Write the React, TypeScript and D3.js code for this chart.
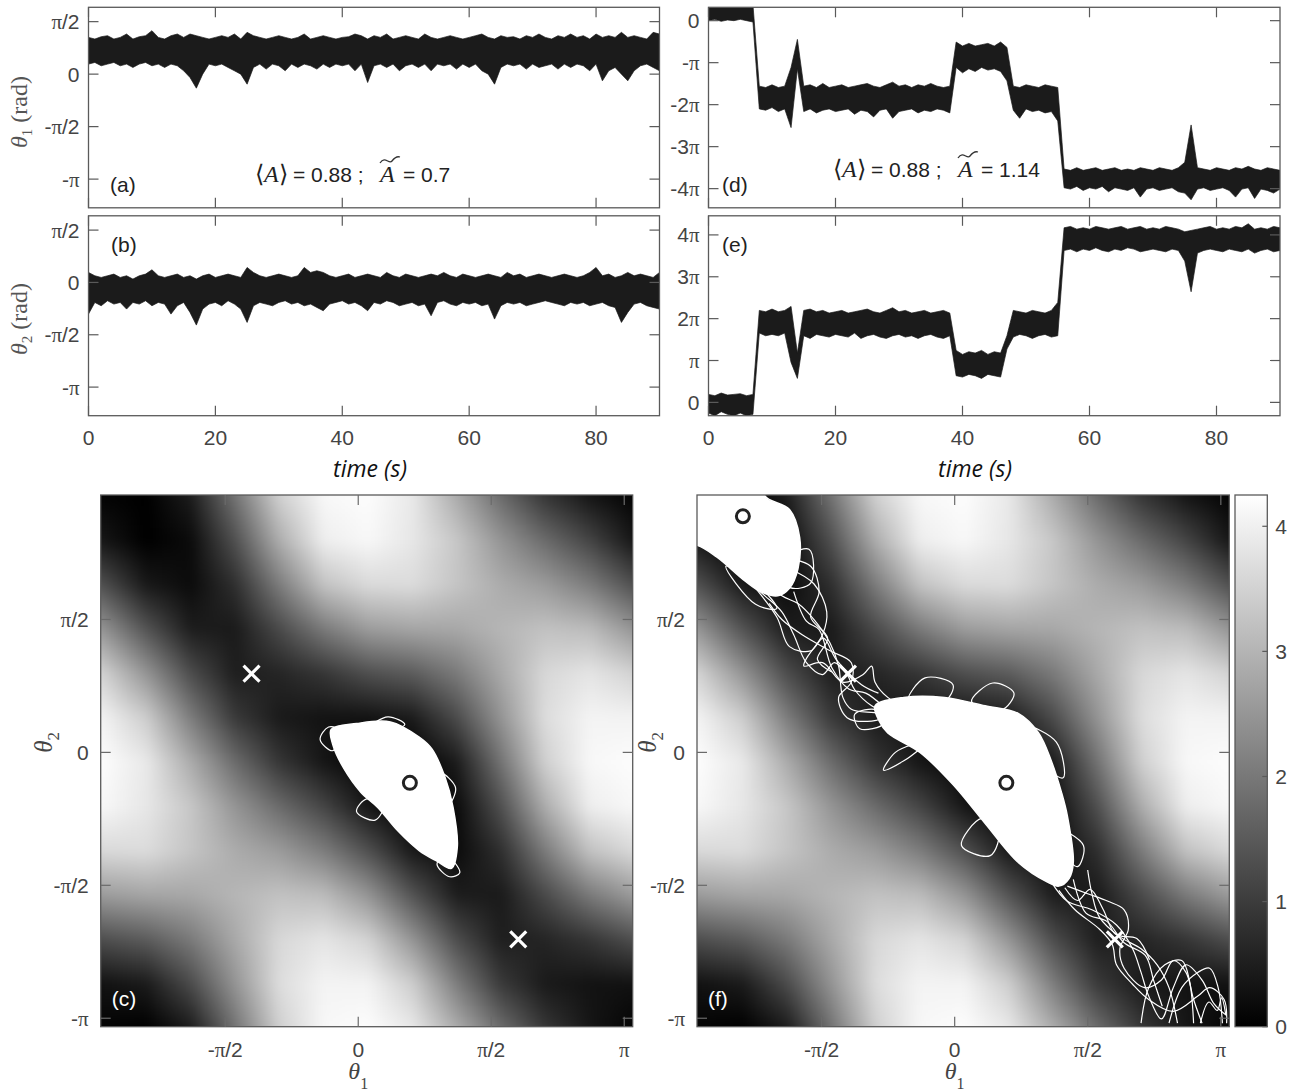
import React, { useMemo } from "react";
import * as d3 from "d3";

const PI = Math.PI;

// ---------------------------------------------------------------- time traces
// one envelope sample per second, values in rad
const seconds = d3.range(0, 91);

// (a) theta1, upper / lower envelope
const aHi = [
  1.1, 1.05, 1.12, 1.15, 1.05, 1.1, 1.2, 1.05, 1.12, 1.15,
  1.3, 1.1, 1.05, 1.15, 1.2, 1.1, 1.2, 1.15, 1.1, 1.05,
  1.1, 1.15, 1.1, 1.2, 1.05, 1.25, 1.15, 1.1, 1.05, 1.1,
  1.15, 1.1, 1.05, 1.1, 1.2, 1.05, 1.1, 1.15, 1.1, 1.05,
  1.1, 1.12, 1.2, 1.15, 1.05, 1.15, 1.1, 1.2, 1.05, 1.1,
  1.15, 1.1, 1.05, 1.2, 1.1, 1.05, 1.1, 1.15, 1.1, 1.05,
  1.1, 1.15, 1.2, 1.1, 1.05, 1.15, 1.1, 1.12, 1.05, 1.15,
  1.1, 1.2, 1.1, 1.05, 1.15, 1.1, 1.2, 1.1, 1.15, 1.05,
  1.2, 1.1, 1.15, 1.1, 1.25, 1.1, 1.15, 1.1, 1.05, 1.25,
  1.2,
];
const aLo = [
  0.3, 0.35, 0.25, 0.3, 0.35, 0.25, 0.3, 0.2, 0.3, 0.35,
  0.25, 0.3, 0.2, 0.3, 0.25, 0.1, -0.1, -0.42, 0.0, 0.3,
  0.25, 0.3, 0.2, 0.1, 0.0, -0.3, 0.2, 0.3, 0.15, 0.3,
  0.25, 0.1, 0.3, 0.2, 0.3, 0.25, 0.15, 0.3, 0.2, 0.3,
  0.25, 0.3, 0.1, 0.3, -0.25, 0.25, 0.3, 0.2, 0.3, 0.1,
  0.25, 0.3, 0.2, 0.3, 0.1, 0.3, 0.25, 0.3, 0.15, 0.3,
  0.2, 0.3, 0.1, 0.0, -0.3, 0.2, 0.3, 0.25, 0.3, 0.15,
  0.3, 0.2, 0.25, 0.3, 0.15, 0.3, 0.2, 0.3, 0.25, 0.1,
  0.3, -0.2, 0.1, 0.2, 0.0, -0.2, 0.1, 0.25, 0.3, 0.2,
  0.1,
];

// (b) theta2
const bHi = [
  0.3, 0.2, 0.15, 0.2, 0.25, 0.15, 0.2, 0.1, 0.2, 0.25,
  0.38, 0.2, 0.15, 0.2, 0.25, 0.15, 0.2, 0.1, 0.2, 0.25,
  0.15, 0.2, 0.25, 0.2, 0.15, 0.45, 0.3, 0.2, 0.15, 0.2,
  0.25, 0.2, 0.15, 0.2, 0.45, 0.3, 0.35, 0.3, 0.2, 0.15,
  0.2, 0.25, 0.15, 0.2, 0.25, 0.2, 0.15, 0.3, 0.2, 0.15,
  0.25, 0.2, 0.15, 0.2, 0.25, 0.2, 0.3, 0.2, 0.15, 0.25,
  0.2, 0.15, 0.2, 0.25, 0.2, 0.15, 0.3, 0.2, 0.25, 0.15,
  0.2, 0.25, 0.2, 0.15, 0.2, 0.25, 0.2, 0.15, 0.2, 0.3,
  0.45, 0.2, 0.25, 0.15, 0.2, 0.3, 0.2, 0.25, 0.2, 0.15,
  0.3,
];
const bLo = [
  -0.95, -0.6, -0.7, -0.55, -0.65, -0.6, -0.8, -0.6, -0.65, -0.55,
  -0.7, -0.6, -0.65, -0.95, -0.7, -0.6, -0.9, -1.28, -0.8, -0.65,
  -0.6, -0.7, -0.55, -0.65, -0.8, -1.2, -0.7, -0.6, -0.65, -0.7,
  -0.6, -0.55, -0.65, -0.6, -0.7, -0.65, -0.75, -0.85, -0.65, -0.6,
  -0.55, -0.65, -0.6, -0.7, -0.85, -0.6, -0.65, -0.55, -0.6, -0.7,
  -0.65, -0.6, -0.7, -0.65, -1.0, -0.6, -0.55, -0.65, -0.7, -0.6,
  -0.65, -0.6, -0.7, -0.65, -1.1, -0.7, -0.6, -0.65, -0.6, -0.7,
  -0.65, -0.6, -0.55, -0.6, -0.65, -0.7, -0.6, -0.65, -0.6, -0.7,
  -0.65, -0.6, -0.7, -0.75, -1.2, -0.9, -0.65, -0.6, -0.7, -0.75,
  -0.8,
];

// (d) theta1, run with phase slips
const dHi = [
  1.2, 1.2, 1.2, 1.2, 1.2, 1.2, 1.2, 1.2, -4.9, -5.0,
  -4.8, -5.0, -4.9, -3.5, -1.4, -4.9, -4.8, -5.0, -4.7, -5.0,
  -4.9, -4.8, -5.0, -4.9, -4.8, -4.7, -4.9, -5.0, -4.8, -4.6,
  -4.9, -4.8, -5.0, -4.8, -4.9, -4.7, -4.9, -5.0, -4.9, -1.6,
  -1.9, -1.7, -1.9, -1.8, -1.7, -1.9, -1.6, -2.0, -4.9, -5.0,
  -4.8, -4.9, -5.0, -4.8, -4.9, -5.0, -11.1, -11.2, -11.0, -11.2,
  -11.1, -11.0, -11.2, -11.1, -11.0, -11.2, -11.1, -11.2, -11.0, -11.1,
  -11.2, -11.0, -11.1, -11.2, -11.0, -10.6, -7.8, -11.0, -11.1, -11.2,
  -11.0, -11.1, -11.2, -11.0, -11.1, -10.9, -11.1, -11.2, -11.0, -11.1,
  -11.2,
];
const dLo = [
  0.0, 0.1, -0.05, 0.05, 0.0, 0.1, 0.0, -0.1, -6.6, -6.7,
  -6.5, -6.8, -6.6, -8.0, -3.6, -6.8, -6.6, -6.9, -6.7, -6.6,
  -6.8, -6.7, -6.6, -7.0, -6.7, -6.8, -7.2, -6.7, -6.6, -7.3,
  -6.8, -6.7, -6.6, -6.9, -6.7, -6.8, -6.6, -6.7, -6.9, -3.5,
  -3.9, -3.6, -3.8, -3.5, -3.7, -3.6, -3.8, -4.5, -6.7, -7.3,
  -6.6, -6.8, -6.7, -6.9, -6.8, -7.5, -12.5, -12.6, -12.4, -12.7,
  -12.5, -12.6, -12.4, -12.8, -12.5, -12.6, -12.7, -12.5, -13.2, -12.6,
  -12.5, -12.7, -12.6, -12.5, -12.8, -12.9, -13.4, -12.6, -12.5, -12.7,
  -12.6, -12.5, -12.7, -13.2, -12.6, -12.5, -13.3, -12.6, -12.7, -12.9,
  -12.6,
];

// (e) theta2, run with phase slips
const eHi = [
  0.6, 0.5, 0.7, 0.55, 0.6, 0.65, 0.5, 0.6, 6.9, 6.8,
  7.0, 6.8, 6.9, 7.2, 3.7, 6.9, 7.0, 6.8, 6.9, 6.7,
  6.8, 6.9, 6.7, 6.8, 6.9, 7.0, 6.8, 6.7, 6.9, 7.1,
  6.8, 6.9, 6.7, 6.8, 6.9, 6.7, 6.8, 6.9, 6.7, 3.9,
  3.6, 3.8, 3.7, 3.9, 3.6, 3.8, 3.7, 5.0, 6.9, 6.8,
  6.7, 6.9, 6.8, 6.7, 6.9, 7.5, 13.1, 13.2, 13.0, 13.1,
  13.0, 13.2, 13.1, 13.0, 13.1, 13.2, 13.0, 13.1, 13.2, 13.0,
  13.1, 13.0, 13.2, 13.1, 13.0, 12.8, 12.9, 13.0, 13.1, 13.2,
  13.0, 13.1, 13.0, 13.2, 13.1, 13.4, 13.0, 13.1, 13.0, 13.2,
  13.1,
];
const eLo = [
  -0.8, -1.0, -0.7, -0.9, -1.0, -0.8, -1.0, -0.9, 5.2, 5.0,
  5.1, 5.0, 5.2, 3.0, 1.8, 5.0, 4.8, 5.1, 5.0, 4.9,
  5.1, 5.0, 4.9, 5.2, 4.8, 5.0, 5.1, 4.9, 4.8, 5.0,
  5.1, 4.9, 5.0, 4.8, 5.0, 5.1, 4.9, 4.8, 5.0, 2.0,
  1.9, 2.1, 2.0, 1.8, 2.1, 2.0, 1.9, 4.0, 4.9, 5.1,
  5.0, 4.8, 5.0, 5.1, 4.9, 5.0, 11.4, 11.5, 11.3, 11.5,
  11.4, 11.6, 11.4, 11.3, 11.5, 11.4, 11.6, 11.5, 11.3, 11.4,
  11.5, 11.4, 11.3, 11.5, 11.4, 10.6, 8.3, 11.2, 11.4, 11.5,
  11.4, 11.3, 11.5, 11.4, 11.3, 11.5, 11.2, 11.4, 11.5, 11.3,
  11.4,
];

// ---------------------------------------------------------------- ticks
const timeTicks = [0, 20, 40, 60, 80];
const halfPiTicks = [PI / 2, 0, -PI / 2, -PI];
const halfPiLabels = ["π/2", "0", "-π/2", "-π"];
const negPiTicks = [0, -PI, -2 * PI, -3 * PI, -4 * PI];
const negPiLabels = ["0", "-π", "-2π", "-3π", "-4π"];
const posPiTicks = [0, PI, 2 * PI, 3 * PI, 4 * PI];
const posPiLabels = ["0", "π", "2π", "3π", "4π"];
const phaseXTicks = [-PI / 2, 0, PI / 2, PI];
const phaseXLabels = ["-π/2", "0", "π/2", "π"];
const barTicks = [0, 1, 2, 3, 4];
const barMax = 4.25;

// ---------------------------------------------------------------- landscape
// sampled every π/6; rows go from θ2 = π-0.1 (top) down to -π-0.1,
// columns from θ1 = -π+0.1 to π+0.1 (last row / column repeat the first)
const landscape = [
  [0.06, 0.0, 0.47, 1.92, 3.46, 4.14, 4.22, 3.89, 2.87, 1.8, 0.9, 0.37, 0.06],
  [0.36, 0.0, 0.19, 1.34, 2.88, 3.97, 4.13, 3.85, 3.31, 2.48, 1.78, 1.15, 0.36],
  [1.33, 0.42, 0.19, 0.78, 2.06, 3.23, 3.64, 3.66, 3.28, 2.87, 2.59, 2.08, 1.33],
  [2.48, 1.4, 0.48, 0.44, 1.24, 2.04, 2.6, 2.75, 2.8, 3.03, 3.23, 3.13, 2.48],
  [3.51, 2.49, 1.29, 0.5, 0.61, 0.9, 1.31, 1.54, 2.04, 2.82, 3.6, 3.82, 3.51],
  [4.05, 3.41, 2.1, 0.97, 0.44, 0.32, 0.3, 0.45, 1.25, 2.47, 3.69, 4.07, 4.05],
  [4.22, 3.89, 2.87, 1.8, 0.9, 0.37, 0.06, 0.0, 0.47, 1.92, 3.46, 4.14, 4.22],
  [4.13, 3.85, 3.31, 2.48, 1.78, 1.15, 0.36, 0.0, 0.19, 1.34, 2.88, 3.97, 4.13],
  [3.64, 3.66, 3.28, 2.87, 2.59, 2.08, 1.33, 0.42, 0.19, 0.78, 2.06, 3.23, 3.64],
  [2.6, 2.75, 2.8, 3.03, 3.23, 3.13, 2.48, 1.4, 0.48, 0.44, 1.24, 2.04, 2.6],
  [1.31, 1.54, 2.04, 2.82, 3.6, 3.82, 3.51, 2.49, 1.29, 0.5, 0.61, 0.9, 1.31],
  [0.3, 0.45, 1.25, 2.47, 3.69, 4.07, 4.05, 3.41, 2.1, 0.97, 0.44, 0.32, 0.3],
  [0.06, 0.0, 0.47, 1.92, 3.46, 4.14, 4.22, 3.89, 2.87, 1.8, 0.9, 0.37, 0.06],
];
const theta1Range: [number, number] = [-PI + 0.1, PI + 0.1];
const theta2Range: [number, number] = [-PI - 0.1, PI - 0.1];

// fixed points [θ1, θ2]
const saddles = [[-1.26, 0.93], [1.89, -2.21]];
const minimaC = [[0.61, -0.36]];
const minimaF = [[0.61, -0.36], [-2.5, 2.79]];

// trajectory cloud outlines and excursions [θ1, θ2]
const cloudC = [
  [-0.32, 0.27], [-0.02, 0.34], [0.38, 0.36], [0.72, 0.18], [0.87, 0.04],
  [1.02, -0.28], [1.12, -0.65], [1.17, -1.12], [1.1, -1.37], [0.92, -1.28],
  [0.72, -1.16], [0.47, -0.93], [0.23, -0.65], [0.03, -0.47], [-0.17, -0.19],
  [-0.3, 0.09],
];
const loopsC = [
  [[-0.35, 0.3], [-0.45, 0.15], [-0.3, 0.02], [-0.2, 0.25]],
  [[0.98, -0.25], [1.15, -0.42], [1.06, -0.62], [0.94, -0.45]],
  [[1.02, -1.2], [1.2, -1.42], [1.08, -1.47], [0.93, -1.32]],
  [[0.15, 0.3], [0.35, 0.42], [0.55, 0.33], [0.3, 0.25]],
  [[0.1, -0.55], [-0.02, -0.7], [0.2, -0.8], [0.3, -0.62]],
];
const cloudF = [
  [-0.94, 0.55], [-0.6, 0.65], [-0.12, 0.65], [0.36, 0.55], [0.75, 0.46],
  [0.99, 0.23], [1.14, -0.1], [1.26, -0.47], [1.33, -0.75], [1.4, -1.3],
  [1.35, -1.49], [1.23, -1.58], [1.09, -1.53], [0.75, -1.3], [0.36, -0.84],
  [-0.02, -0.38], [-0.41, 0.0], [-0.79, 0.23], [-0.89, 0.37],
];
const cloudF2 = [
  [-3.3, 3.3], [-2.24, 3.3], [-2.24, 3.03], [-1.95, 2.87], [-1.83, 2.54],
  [-1.85, 2.17], [-1.95, 1.94], [-2.09, 1.85], [-2.29, 1.9], [-2.48, 2.03],
  [-2.81, 2.31], [-3.05, 2.45], [-3.3, 2.45],
];
const loopsF = [
  [[-0.55, 0.6], [-0.35, 0.88], [-0.02, 0.8], [-0.12, 0.6]],
  [[0.85, 0.3], [1.2, 0.12], [1.28, -0.3], [1.0, -0.1]],
  [[0.32, -0.78], [0.08, -1.1], [0.42, -1.22], [0.52, -0.92]],
  [[-0.92, 0.5], [-1.18, 0.45], [-1.12, 0.28], [-0.84, 0.34]],
  [[0.2, 0.6], [0.45, 0.82], [0.7, 0.7], [0.55, 0.5]],
  [[1.2, -0.9], [1.52, -1.1], [1.45, -1.35], [1.3, -1.2]],
  [[-2.1, 2.2], [-1.72, 2.4], [-1.7, 2.0], [-1.95, 1.95]],
  [[-2.7, 2.2], [-2.35, 1.75], [-2.1, 1.7], [-2.4, 2.05]],
];
const strandsF = [
  [[-2.62, 2.17], [-2.24, 1.85], [-2.04, 1.66], [-1.9, 1.39], [-1.75, 1.06], [-1.56, 0.92], [-1.42, 1.06], [-1.27, 0.92], [-1.18, 0.74], [-0.98, 0.55], [-0.79, 0.46]],
  [[-2.28, 2.08], [-2.04, 1.85], [-1.85, 1.76], [-1.66, 1.57], [-1.47, 1.29], [-1.37, 1.02], [-1.32, 0.65], [-1.22, 0.51], [-0.89, 0.46], [-0.6, 0.37]],
  [[-1.95, 2.17], [-1.66, 1.99], [-1.51, 1.66], [-1.56, 1.39], [-1.75, 1.11], [-1.78, 1.02], [-1.56, 1.06], [-1.32, 0.83], [-1.08, 0.92], [-0.98, 1.02], [-0.94, 0.83], [-0.79, 0.65], [-0.6, 0.55]],
  [[-2.19, 1.76], [-2.04, 1.57], [-1.8, 1.39], [-1.47, 1.2], [-1.22, 1.06], [-1.22, 0.83], [-1.37, 0.65], [-1.27, 0.41], [-0.98, 0.37], [-0.7, 0.46]],
  [[-2.4, 2.0], [-2.1, 1.6], [-1.95, 1.25], [-1.7, 1.2], [-1.55, 1.35], [-1.4, 1.1], [-1.1, 0.8], [-0.9, 0.7]],
  [[-1.9, 1.9], [-1.75, 1.55], [-1.6, 1.45], [-1.45, 1.0], [-1.25, 0.75], [-1.05, 0.7], [-0.85, 0.55]],
  [[-2.0, 2.3], [-1.7, 2.2], [-1.6, 1.9], [-1.7, 1.6], [-1.5, 1.35], [-1.62, 1.1], [-1.45, 0.95]],
  [[-0.41, 0.04], [-0.6, -0.1], [-0.84, -0.21], [-0.7, 0.0], [-0.5, 0.09]],
  [[1.14, -1.53], [1.33, -1.76], [1.62, -1.86], [1.91, -2.04], [2.1, -2.32], [2.2, -2.6], [2.29, -2.88], [2.44, -3.15], [2.58, -2.78], [2.73, -2.51], [2.92, -2.69], [3.06, -2.97], [3.21, -3.11]],
  [[1.33, -1.58], [1.57, -1.67], [1.81, -1.76], [2.0, -1.86], [2.05, -2.09], [1.95, -2.32], [2.0, -2.55], [2.24, -2.78], [2.44, -2.69], [2.58, -2.46], [2.73, -2.6], [2.82, -2.92], [2.92, -3.2]],
  [[1.23, -1.63], [1.42, -1.86], [1.71, -2.09], [1.86, -2.27], [1.91, -2.51], [2.1, -2.74], [2.29, -2.92], [2.58, -3.06], [2.87, -2.88], [3.01, -2.78], [3.18, -2.92], [3.21, -3.2]],
  [[1.57, -1.39], [1.62, -1.67], [1.71, -1.95], [1.95, -2.18], [2.2, -2.32], [2.39, -2.51], [2.53, -2.78], [2.63, -3.2]],
  [[1.4, -1.5], [1.55, -1.9], [1.8, -2.0], [2.0, -2.25], [2.25, -2.4], [2.35, -2.7], [2.45, -3.0]],
  [[1.3, -1.6], [1.45, -1.75], [1.6, -1.62], [1.75, -1.85], [1.9, -2.15], [2.15, -2.2], [2.3, -2.45]],
  [[2.2, -3.2], [2.29, -2.78], [2.48, -2.51], [2.68, -2.46], [2.77, -2.69], [2.82, -3.2]],
  [[2.53, -3.2], [2.68, -2.78], [2.87, -2.6], [3.01, -2.55], [3.11, -2.78], [3.16, -3.2]],
  [[2.9, -3.2], [3.0, -2.95], [3.1, -3.05], [3.15, -2.9], [3.2, -3.1]],
];

// ---------------------------------------------------------------- styles
const SANS = "'Liberation Sans', Arial, Helvetica, sans-serif";
const SERIF = "'Liberation Serif', 'Times New Roman', serif";
const FRAME = "#5a5a5a";
const LABEL = "#444";

function piText(s: string) {
  const parts = s.split("π");
  const out: React.ReactNode[] = [];
  parts.forEach((p, i) => {
    if (i > 0) out.push(<tspan key={"p" + i} fontFamily={SERIF}>π</tspan>);
    if (p) out.push(<tspan key={"t" + i}>{p}</tspan>);
  });
  return out;
}

type TraceSpec = {
  tag: string; x0: number; x1: number; y0: number; y1: number;
  domain: [number, number]; ticks: number[]; labels: string[];
  hi: number[]; lo: number[]; tagX: number; tagY: number; xLabels: boolean;
};

const tracePanels: TraceSpec[] = [
  { tag: "(a)", x0: 88.5, x1: 659.5, y0: 7.3, y1: 207.8, domain: [-4, 2], ticks: halfPiTicks, labels: halfPiLabels, hi: aHi, lo: aLo, tagX: 110, tagY: 192, xLabels: false },
  { tag: "(b)", x0: 88.5, x1: 659.5, y0: 215.8, y1: 415.7, domain: [-4, 2], ticks: halfPiTicks, labels: halfPiLabels, hi: bHi, lo: bLo, tagX: 111, tagY: 252, xLabels: true },
  { tag: "(d)", x0: 708.5, x1: 1280, y0: 7.3, y1: 207.8, domain: [-14, 1], ticks: negPiTicks, labels: negPiLabels, hi: dHi, lo: dLo, tagX: 722, tagY: 192, xLabels: false },
  { tag: "(e)", x0: 708.5, x1: 1280, y0: 215.8, y1: 415.7, domain: [-1, 14], ticks: posPiTicks, labels: posPiLabels, hi: eHi, lo: eLo, tagX: 722, tagY: 252, xLabels: true },
];

function TracePanel({ p, i }: { p: TraceSpec; i: number }) {
  const x = d3.scaleLinear([0, 90], [p.x0, p.x1]);
  const y = d3.scaleLinear(p.domain, [p.y1, p.y0]);
  const area = d3
    .area<number>()
    .x((t) => x(t))
    .y0((_, k) => y(p.lo[k]))
    .y1((_, k) => y(p.hi[k]));
  const tick = 10;
  return (
    <g>
      <clipPath id={`trace-clip-${i}`}>
        <rect x={p.x0} y={p.y0} width={p.x1 - p.x0} height={p.y1 - p.y0} />
      </clipPath>
      <path d={area(seconds) ?? ""} fill="#1b1b1b" stroke="#1b1b1b" strokeWidth={0.7} clipPath={`url(#trace-clip-${i})`} />
      <rect x={p.x0} y={p.y0} width={p.x1 - p.x0} height={p.y1 - p.y0} fill="none" stroke={FRAME} strokeWidth={1.3} />
      {timeTicks.map((t) => (
        <g key={t} stroke={FRAME} strokeWidth={1.2}>
          <line x1={x(t)} x2={x(t)} y1={p.y1} y2={p.y1 - tick} />
          <line x1={x(t)} x2={x(t)} y1={p.y0} y2={p.y0 + tick} />
        </g>
      ))}
      {p.ticks.map((v) => (
        <g key={v} stroke={FRAME} strokeWidth={1.2}>
          <line x1={p.x0} x2={p.x0 + tick} y1={y(v)} y2={y(v)} />
          <line x1={p.x1} x2={p.x1 - tick} y1={y(v)} y2={y(v)} />
        </g>
      ))}
      {p.ticks.map((v, k) => (
        <text key={"l" + k} x={p.x0 - 9} y={y(v)} dy="0.36em" textAnchor="end" fontFamily={SANS} fontSize={21} fill={LABEL}>
          {piText(p.labels[k])}
        </text>
      ))}
      {p.xLabels &&
        timeTicks.map((t) => (
          <text key={"x" + t} x={x(t)} y={p.y1 + 29} textAnchor="middle" fontFamily={SANS} fontSize={21} fill={LABEL}>
            {t}
          </text>
        ))}
      <text x={p.tagX} y={p.tagY} fontFamily={SANS} fontSize={21} fill="#222">
        {p.tag}
      </text>
    </g>
  );
}

function useLandscapeUrl() {
  return useMemo(() => {
    const n = landscape.length - 1;
    const size = n + 3;
    const canvas = document.createElement("canvas");
    canvas.width = size;
    canvas.height = size;
    const ctx = canvas.getContext("2d")!;
    const img = ctx.createImageData(size, size);
    const gray = d3.scaleLinear([0, barMax], [0, 255]).clamp(true);
    for (let r = 0; r < size; r++) {
      for (let c = 0; c < size; c++) {
        const row = (((r - 1) % n) + n) % n;
        const col = (((c - 1) % n) + n) % n;
        const g = Math.round(gray(landscape[row][col]));
        const k = 4 * (r * size + c);
        img.data[k] = g;
        img.data[k + 1] = g;
        img.data[k + 2] = g;
        img.data[k + 3] = 255;
      }
    }
    ctx.putImageData(img, 0, 0);
    return canvas.toDataURL();
  }, []);
}

type PhaseSpec = {
  tag: string; x0: number; x1: number; y0: number; y1: number;
  clouds: number[][][]; loops: number[][][]; strands: number[][][]; minima: number[][];
  yTitleX: number;
};

function PhasePanel({ p, url, i }: { p: PhaseSpec; url: string; i: number }) {
  const x = d3.scaleLinear(theta1Range, [p.x0, p.x1]);
  const y = d3.scaleLinear(theta2Range, [p.y1, p.y0]);
  const n = landscape.length - 1;
  const step = (2 * PI) / n;
  const cw = x(step) - x(0);
  const ch = y(0) - y(step);
  const closed = d3.line<number[]>().x((d) => x(d[0])).y((d) => y(d[1])).curve(d3.curveCatmullRomClosed.alpha(0.5));
  const open = d3.line<number[]>().x((d) => x(d[0])).y((d) => y(d[1])).curve(d3.curveCatmullRom.alpha(0.5));
  const tick = 10;
  const cross = 8;
  return (
    <g>
      <clipPath id={`phase-clip-${i}`}>
        <rect x={p.x0} y={p.y0} width={p.x1 - p.x0} height={p.y1 - p.y0} />
      </clipPath>
      <g clipPath={`url(#phase-clip-${i})`}>
        <image
          href={url}
          x={x(theta1Range[0]) - 1.5 * cw}
          y={y(theta2Range[1]) - 1.5 * ch}
          width={(n + 3) * cw}
          height={(n + 3) * ch}
          preserveAspectRatio="none"
          filter="url(#soften)"
        />
        {p.clouds.map((c, k) => (
          <path key={"c" + k} d={closed(c) ?? ""} fill="#fff" stroke="#fff" strokeWidth={1.5} />
        ))}
        {p.loops.map((c, k) => (
          <path key={"l" + k} d={closed(c) ?? ""} fill="none" stroke="#fff" strokeWidth={1.2} />
        ))}
        {p.strands.map((s, k) => (
          <path key={"s" + k} d={open(s) ?? ""} fill="none" stroke="#fff" strokeWidth={1.2} />
        ))}
        {saddles.map(([a, b], k) => (
          <path
            key={"x" + k}
            d={`M${x(a) - cross},${y(b) - cross}L${x(a) + cross},${y(b) + cross}M${x(a) - cross},${y(b) + cross}L${x(a) + cross},${y(b) - cross}`}
            stroke="#fff"
            strokeWidth={3.2}
          />
        ))}
        {p.minima.map(([a, b], k) => (
          <circle key={"m" + k} cx={x(a)} cy={y(b)} r={6.5} fill="none" stroke="#222" strokeWidth={3} />
        ))}
      </g>
      <rect x={p.x0} y={p.y0} width={p.x1 - p.x0} height={p.y1 - p.y0} fill="none" stroke={FRAME} strokeWidth={1.3} />
      {phaseXTicks.map((v) => (
        <g key={"tx" + v} stroke="#6a6a6a" strokeWidth={1.2}>
          <line x1={x(v)} x2={x(v)} y1={p.y1} y2={p.y1 - tick} />
          <line x1={x(v)} x2={x(v)} y1={p.y0} y2={p.y0 + tick} />
        </g>
      ))}
      {halfPiTicks.map((v) => (
        <g key={"ty" + v} stroke="#6a6a6a" strokeWidth={1.2}>
          <line x1={p.x0} x2={p.x0 + tick} y1={y(v)} y2={y(v)} />
          <line x1={p.x1} x2={p.x1 - tick} y1={y(v)} y2={y(v)} />
        </g>
      ))}
      {phaseXTicks.map((v, k) => (
        <text key={"lx" + k} x={x(v)} y={p.y1 + 30} textAnchor="middle" fontFamily={SANS} fontSize={21} fill={LABEL}>
          {piText(phaseXLabels[k])}
        </text>
      ))}
      {halfPiTicks.map((v, k) => (
        <text key={"ly" + k} x={p.x0 - 12} y={y(v)} dy="0.36em" textAnchor="end" fontFamily={SANS} fontSize={21} fill={LABEL}>
          {piText(halfPiLabels[k])}
        </text>
      ))}
      <text x={x(0)} y={p.y1 + 52} textAnchor="middle" fontFamily={SERIF} fontSize={24} fill={LABEL}>
        <tspan fontStyle="italic">θ</tspan>
        <tspan fontSize={16} dy={10}>1</tspan>
      </text>
      <text transform={`translate(${p.yTitleX},${y(0) - 10}) rotate(-90)`} textAnchor="middle" fontFamily={SERIF} fontSize={25} fill={LABEL}>
        <tspan fontStyle="italic">θ</tspan>
        <tspan fontSize={17} dy={7}>2</tspan>
      </text>
      <text x={p.x0 + 11} y={p.y1 - 21} fontFamily={SANS} fontSize={21} fill="#fff">
        {p.tag}
      </text>
    </g>
  );
}

function Tilde({ x0, y0, w }: { x0: number; y0: number; w: number }) {
  return (
    <path
      d={`M${x0},${y0 + 3} C${x0 + w * 0.25},${y0 - 5} ${x0 + w * 0.45},${y0 + 5} ${x0 + w * 0.6},${y0 + 1} S${x0 + w * 0.85},${y0 - 4} ${x0 + w},${y0 - 3}`}
      fill="none"
      stroke="#333"
      strokeWidth={1.3}
    />
  );
}

function Annotation({ x0, y0, value }: { x0: number; y0: number; value: string }) {
  return (
    <g fill="#222">
      <text x={x0} y={y0} fontFamily={SERIF} fontSize={24}>
        <tspan>⟨</tspan>
        <tspan fontStyle="italic">A</tspan>
        <tspan>⟩</tspan>
      </text>
      <text x={x0 + 38} y={y0} fontFamily={SANS} fontSize={21}>
        = 0.88 ;
      </text>
      <text x={x0 + 125} y={y0} fontFamily={SERIF} fontStyle="italic" fontSize={24}>
        A
      </text>
      <Tilde x0={x0 + 125} y0={y0 - 22} w={20} />
      <text x={x0 + 148} y={y0} fontFamily={SANS} fontSize={21}>
        {"= " + value}
      </text>
    </g>
  );
}

export default function App() {
  const url = useLandscapeUrl();
  const phasePanels: PhaseSpec[] = [
    { tag: "(c)", x0: 100.7, x1: 632.7, y0: 495, y1: 1026.7, clouds: [cloudC], loops: loopsC, strands: [], minima: minimaC, yTitleX: 52 },
    { tag: "(f)", x0: 697, x1: 1229.3, y0: 495, y1: 1026.7, clouds: [cloudF, cloudF2], loops: loopsF, strands: strandsF, minima: minimaF, yTitleX: 656 },
  ];
  const bar = d3.scaleLinear([0, barMax], [1026.7, 495]);
  const barX0 = 1235;
  const barX1 = 1267.3;
  return (
    <svg width={1298} height={1092} style={{ position: "absolute", left: 0, top: 0, background: "#fff" }}>
      <defs>
        <filter id="soften" x="-5%" y="-5%" width="110%" height="110%" colorInterpolationFilters="sRGB">
          <feGaussianBlur stdDeviation={5} />
        </filter>
        <linearGradient id="barGrad" x1="0" y1="1" x2="0" y2="0">
          <stop offset="0" stopColor="#000" />
          <stop offset="1" stopColor="#fff" />
        </linearGradient>
      </defs>

      {tracePanels.map((p, i) => (
        <TracePanel key={p.tag} p={p} i={i} />
      ))}

      <text transform="translate(27,112) rotate(-90)" textAnchor="middle" fontFamily={SERIF} fontSize={24} fill="#555">
        <tspan fontStyle="italic">θ</tspan>
        <tspan fontSize={15} dy={5}>1</tspan>
        <tspan dy={-5}> (rad)</tspan>
      </text>
      <text transform="translate(27,319) rotate(-90)" textAnchor="middle" fontFamily={SERIF} fontSize={24} fill="#555">
        <tspan fontStyle="italic">θ</tspan>
        <tspan fontSize={15} dy={5}>2</tspan>
        <tspan dy={-5}> (rad)</tspan>
      </text>

      <Annotation x0={255} y0={182} value="0.7" />
      <Annotation x0={833} y0={177} value="1.14" />

      <text x={370} y={477} textAnchor="middle" fontFamily="'Open Sans', sans-serif" fontStyle="italic" fontSize={23} fill="#111">
        time (s)
      </text>
      <text x={975} y={477} textAnchor="middle" fontFamily="'Open Sans', sans-serif" fontStyle="italic" fontSize={23} fill="#111">
        time (s)
      </text>

      {phasePanels.map((p, i) => (
        <PhasePanel key={p.tag} p={p} url={url} i={i} />
      ))}

      <rect x={barX0} y={bar(barMax)} width={barX1 - barX0} height={bar(0) - bar(barMax)} fill="url(#barGrad)" stroke={FRAME} strokeWidth={1.3} />
      {barTicks.map((v) => (
        <g key={v}>
          <line x1={barX1 - 5} x2={barX1} y1={bar(v)} y2={bar(v)} stroke={FRAME} strokeWidth={1.2} />
          <text x={barX1 + 8} y={bar(v)} dy="0.36em" fontFamily={SANS} fontSize={21} fill={LABEL}>
            {v}
          </text>
        </g>
      ))}
    </svg>
  );
}
